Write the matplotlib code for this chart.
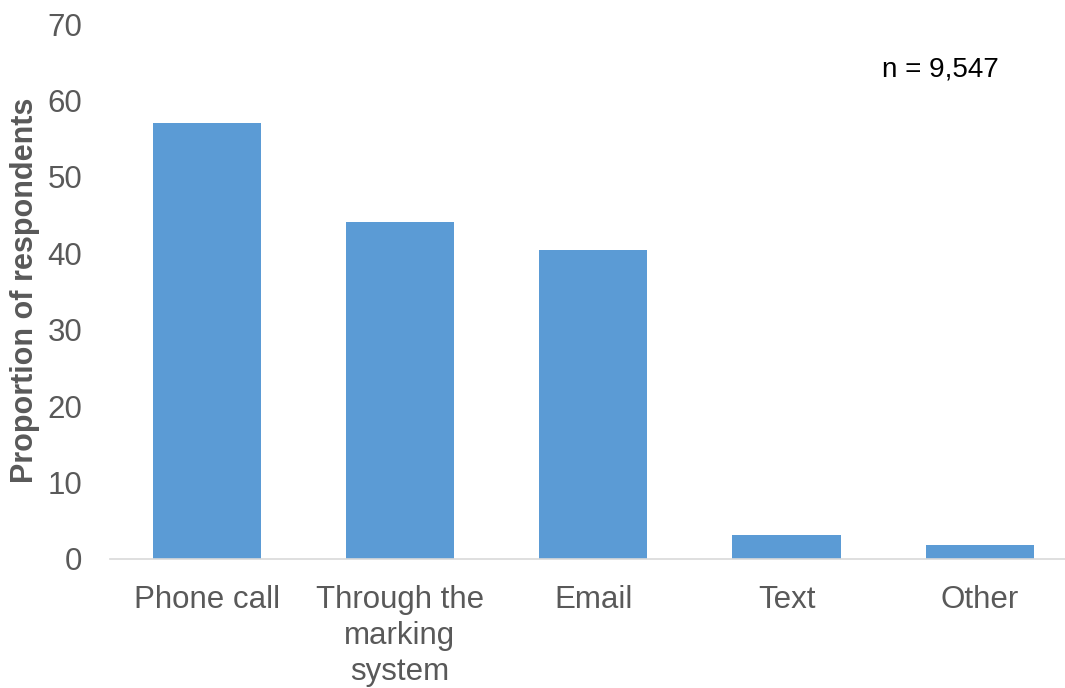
import matplotlib
matplotlib.use("Agg")
import matplotlib.pyplot as plt

categories = ["Phone call", "Through the\nmarking\nsystem", "Email", "Text", "Other"]
values = [57.1, 44.1, 40.4, 3.1, 1.8]
yticks = [0, 10, 20, 30, 40, 50, 60, 70]
ylabel = "Proportion of respondents"
note = "n = 9,547"

plt.rcParams['font.family'] = ['Liberation Sans', 'DejaVu Sans']

fig = plt.figure(figsize=(10.65, 6.88), dpi=100)
ax = fig.add_axes([110/1065, (688-559)/688, 1 - 110/1065, (559-24)/688])

x = range(len(categories))
ax.bar(x, values, width=0.56, color="#5B9BD5", zorder=2)

ax.set_xlim(-0.5, 4.44)
ax.set_ylim(0, 70)
ax.set_yticks(yticks)
ax.set_xticks(list(x))
ax.set_xticklabels(categories, fontsize=22.5, color="#595959", linespacing=1.25)
ax.tick_params(axis='y', labelsize=22.5, labelcolor="#595959", length=0, pad=20)
ax.tick_params(axis='x', length=0, pad=19)

for s in ['top', 'right', 'left']:
    ax.spines[s].set_visible(False)
ax.spines['bottom'].set_color("#D9D9D9")
ax.spines['bottom'].set_linewidth(1.2)

fig.text(25/1065, (688-290)/688, ylabel, rotation=90, fontsize=22, fontweight='bold',
         color="#595959", ha='center', va='center')
fig.text(882/1065, (688-70)/688, note, fontsize=20, color="black", ha='left', va='center')

fig.savefig("out.png", dpi=100)
